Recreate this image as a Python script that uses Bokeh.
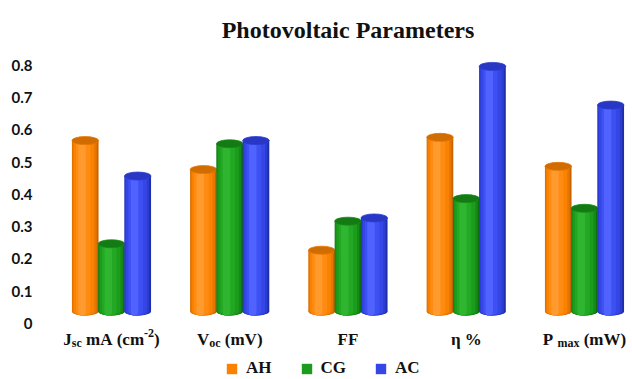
from bokeh.plotting import figure
from bokeh.models import (ColumnDataSource, Range1d, LinearAxis, FixedTicker,
                          Legend, LegendItem, Label)
from bokeh.embed import file_html
from bokeh.resources import INLINE
from bokeh.core.properties import value

# ---- data -------------------------------------------------------------
categories = ["Jsc", "Voc", "FF", "eta", "Pmax"]
# category tick labels split into pieces so sub/superscripts can be drawn
NBSP = "\u00a0"
category_labels = [
    [("J", "main"), ("sc", "sub"), (NBSP + "mA" + NBSP + "(cm", "main"), ("-2", "sup"), (")", "main")],
    [("V", "main"), ("oc", "sub"), (NBSP + "(mV)", "main")],
    [("FF", "main")],
    [("η" + NBSP + "%", "main")],
    [("P" + NBSP, "main"), ("max", "sub"), (NBSP + "(mW)", "main")],
]
series_names = ["AH", "CG", "AC"]
ah_values = [0.53, 0.44, 0.19, 0.54, 0.45]
cg_values = [0.21, 0.52, 0.28, 0.35, 0.32]
ac_values = [0.42, 0.53, 0.29, 0.76, 0.64]
y_ticks = [0, 0.1, 0.2, 0.3, 0.4, 0.5, 0.6, 0.7, 0.8]

# ---- style ------------------------------------------------------------
SERIF = "Liberation Serif"
SANS = "Lato"
BAR_W = 0.225
DODGE = [-0.222, 0.0, 0.222]
CAP_H = 8  # px, height of the cylinder end ellipses

# cylinder shading: (width fraction, centre shift fraction) from outside in
LAYERS = [(1.00, 0.00), (0.92, -0.03), (0.78, -0.05), (0.55, -0.08), (0.28, -0.12)]
SHADES = [
    ["#c86400", "#e67600", "#fa8200", "#ff8c12", "#ff9a2e"],
    ["#0f6e0f", "#168a16", "#1c9c1c", "#22a822", "#30b530"],
    ["#1f2eaa", "#2b3cd0", "#3546e6", "#3d50f2", "#5062ff"],
]
CAPS = ["#d06c00", "#147a14", "#2838c4"]

p = figure(width=632, height=379, output_backend="svg", toolbar_location=None,
           x_range=Range1d(-0.6004, 4.406), y_range=Range1d(-0.2109, 0.9643),
           x_axis_type=None, y_axis_type=None,
           min_border_left=40, min_border_right=0, min_border_top=0, min_border_bottom=0)
p.outline_line_color = None
p.background_fill_color = "white"
p.border_fill_color = "white"

# value axis: labels sit on the front edge of the floor, slightly below the bar bases
p.extra_y_ranges = {"lab": Range1d(-0.2109 + 0.0372, 0.9643 + 0.0372)}
yaxis = LinearAxis(y_range_name="lab", ticker=FixedTicker(ticks=y_ticks),
                   major_tick_line_color=None, minor_tick_line_color=None,
                   major_tick_out=0, major_tick_in=0, axis_line_color=None,
                   major_label_standoff=8,
                   major_label_text_font=SANS, major_label_text_font_style="bold",
                   major_label_text_font_size="15px", major_label_text_color="#111111",
                   major_label_overrides={0: "0"})
p.add_layout(yaxis, "left")

# ---- cylinders ----------------------------------------------------------
legend_items = []
for s, vals in enumerate([ah_values, cg_values, ac_values]):
    legend_r = None
    for k, (wf, shift) in enumerate(LAYERS):
        src = ColumnDataSource(dict(
            x=[i + DODGE[s] + shift * BAR_W for i in range(len(categories))],
            top=vals,
            base=[0] * len(vals),
        ))
        r = p.vbar(x="x", top="top", bottom="base", width=BAR_W * wf, source=src,
                   fill_color=SHADES[s][k], line_color=None)
        p.ellipse(x="x", y="base", width=BAR_W * wf, height=CAP_H, height_units="screen",
                  source=src, fill_color=SHADES[s][k], line_color=None)
        if k == 2:
            legend_r = r
    cap_src = ColumnDataSource(dict(x=[i + DODGE[s] for i in range(len(categories))], top=vals))
    p.ellipse(x="x", y="top", width=BAR_W, height=CAP_H, height_units="screen",
              source=cap_src, fill_color=CAPS[s], line_color=SHADES[s][1], line_width=0.8)
    legend_items.append(LegendItem(label=series_names[s], renderers=[legend_r]))

# ---- category labels (with sub/superscripts) ----------------------------
CHAR_W = {'J': 500, 's': 389, 'c': 444, ' ': 250, NBSP: 250, 'm': 833, 'A': 722,
          '(': 333, ')': 333, '-': 333, '2': 500, 'V': 722, 'o': 500, 'F': 611,
          'η': 556, '%': 1000, 'P': 611, 'a': 500, 'x': 500, 'W': 1000}
SIZE = {"main": 17, "sub": 12, "sup": 12}
YOFF = {"main": 28, "sub": 32, "sup": 22}

lab = dict(x=[], y=[], text=[], xo=[], yo=[], fs=[])
for i, parts in enumerate(category_labels):
    widths = [sum(CHAR_W.get(ch, 500) for ch in t) * SIZE[role] / 1000 for t, role in parts]
    pos = -sum(widths) / 2
    for (t, role), w in zip(parts, widths):
        lab["x"].append(i)
        lab["y"].append(0)
        lab["text"].append(t)
        lab["xo"].append(pos)
        lab["yo"].append(YOFF[role])
        lab["fs"].append(f"{SIZE[role]}px")
        pos += w
p.text(x="x", y="y", text="text", x_offset="xo", y_offset="yo", text_font_size="fs",
       source=ColumnDataSource(lab), text_font=value(SERIF), text_font_style="bold",
       text_align="left", text_baseline="alphabetic", text_color="#111111")

# ---- title ----------------------------------------------------------------
p.add_layout(Label(x=307.5, y=350, x_units="screen", y_units="screen",
                   text="Photovoltaic Parameters", text_align="center",
                   text_baseline="alphabetic", text_font=SERIF, text_font_style="bold",
                   text_font_size="24px", text_color="#111111"))

# ---- legend ----------------------------------------------------------------
legend = Legend(items=legend_items, orientation="horizontal", location=(185, 1),
                glyph_width=13, glyph_height=13, label_standoff=8, spacing=28,
                padding=0, margin=0, border_line_color=None, background_fill_alpha=0,
                label_text_font=SERIF, label_text_font_style="bold",
                label_text_font_size="17px", label_text_color="#111111", label_height=13)
p.add_layout(legend, "center")

open("out.html", "w").write(file_html(p, INLINE))
